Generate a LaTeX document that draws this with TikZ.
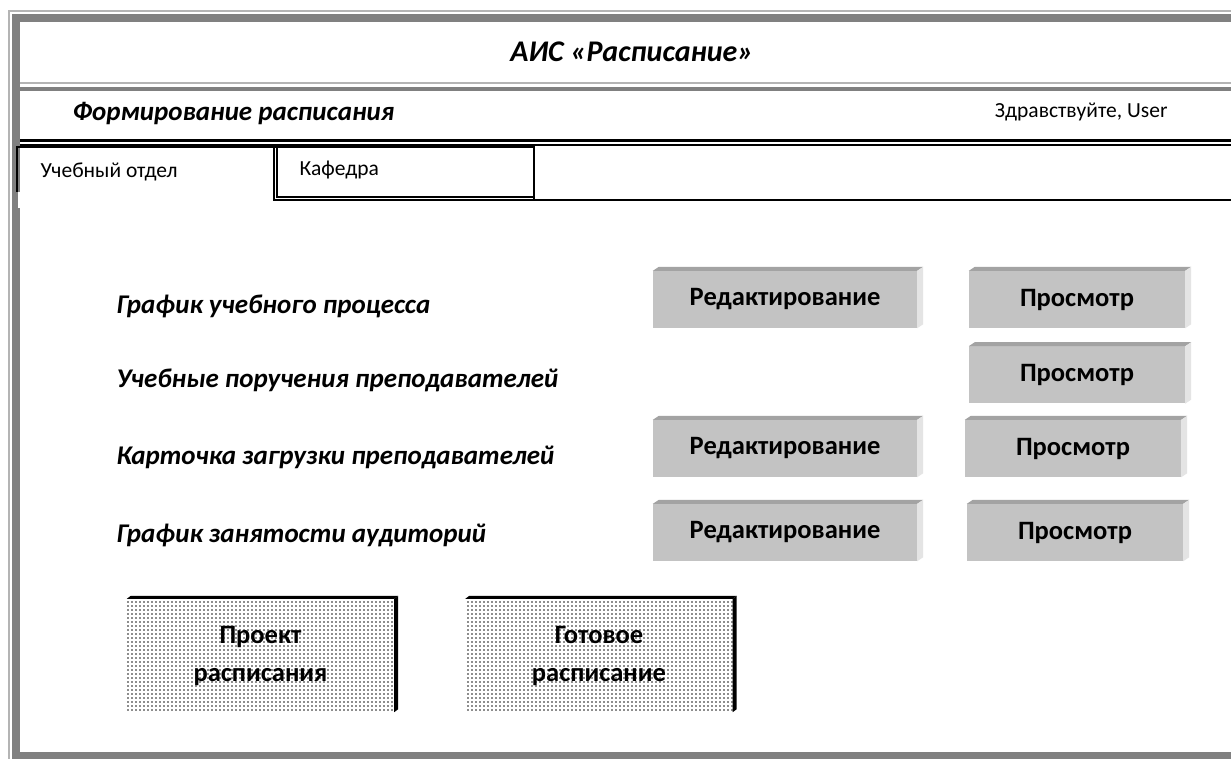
\documentclass[tikz,border=0pt]{standalone}
\usepackage{fontspec}
\setmainfont{Carlito}
\usetikzlibrary{positioning}
\usetikzlibrary{patterns}

\definecolor{ramka}{HTML}{808080}
\definecolor{ramkasvet}{HTML}{B4B4B4}
\definecolor{knopkafon}{HTML}{C3C3C3}
\definecolor{knopkaverh}{HTML}{A3A3A3}
\definecolor{knopkabok}{HTML}{E4E4E4}

\pgfdeclarepatternformonly{krap}{\pgfqpoint{-1pt}{-1pt}}{\pgfqpoint{1pt}{1pt}}{\pgfqpoint{4pt}{4pt}}{%
    \pgfpathcircle{\pgfqpoint{0pt}{0pt}}{0.85pt}\pgfusepath{fill}}

\begin{document}
\begin{tikzpicture}[x=1pt,y=-1pt,
    zagolovok/.style={font=\fontsize{27}{31}\selectfont\bfseries\itshape},
    obychnyj/.style={font=\fontsize{21.5}{25}\selectfont},
    vkladka/.style={line width=1.3pt},
    knopka/.style={fill=knopkafon,minimum height=57pt,inner sep=0pt,font=\fontsize{26.5}{31}\selectfont\bfseries},
    redakt/.style={knopka,minimum width=264pt},
    prosm/.style={knopka,minimum width=216pt},
    blok/.style={pattern=krap,pattern color=black!90,minimum width=267pt,minimum height=113pt,
        align=center,inner sep=0pt,font=\fontsize{26.5}{38}\selectfont\bfseries}]
    \useasboundingbox (0,0) rectangle (1231,758);
    \clip (0,0) rectangle (1231,758);
    \fill[white] (0,0) rectangle (1231,758);

    %window frame
    \draw[ramkasvet, line width=2pt] (9,770) -- (9,11) -- (1240,11);
    \draw[ramka, line width=8pt] (16,18) rectangle (1240,756);
    \fill[white] (17.5,192) rectangle (20.5,208);
    \draw[ramkasvet, line width=1.5pt] (20,83) -- (1231,83);
    \draw[ramka, line width=3.5pt] (20,89) -- (1231,89);
    \draw[line width=2.2pt] (20,140.5) -- (1231,140.5);
    \draw[line width=2.2pt] (20,145) -- (1231,145);

    %header
    \node[zagolovok, anchor=base, font=\fontsize{30}{34}\selectfont\bfseries\itshape] (zag) at (632,61) {АИС «Расписание»};
    \node[zagolovok, anchor=base west] (formir) at (69,120) {Формирование расписания};
    \node[obychnyj, anchor=base east] (privet) at (1171,117) {Здравствуйте, User};

    %tabs
    \draw[vkladka] (17,192) -- (17,147) -- (274,147);
    \draw[vkladka] (274,147) rectangle (534,200);
    \draw[vkladka] (277,147) -- (277,197) -- (534,197);
    \draw[vkladka] (534,200) -- (1231,200);
    \node[obychnyj, anchor=base west] (uchotd) at (37,177) {Учебный отдел};
    \node[obychnyj, anchor=base west] (kafedra) at (296,175) {Кафедра};

    %rows
    \node[zagolovok, anchor=base west] (grafik) at (113,313) {График учебного процесса};
    \node[zagolovok, anchor=base west] (poruch) at (113,387) {Учебные поручения преподавателей};
    \node[zagolovok, anchor=base west] (kartoch) at (113,464) {Карточка загрузки преподавателей};
    \node[zagolovok, anchor=base west] (auditor) at (113,542) {График занятости аудиторий};

    %buttons
    \node[redakt] (r1) at (785,299.5) {Редактирование};
    \node[prosm] (p1) at (1077,299.5) {Просмотр};
    \node[prosm, below=18pt of p1] (p2) {Просмотр};
    \node[redakt] (r3) at (785,448.5) {Редактирование};
    \node[prosm] (p3) at (1073,448.5) {Просмотр};
    \node[redakt] (r4) at (785,532.5) {Редактирование};
    \node[prosm] (p4) at (1075,532.5) {Просмотр};
    \foreach \k in {r1,p1,p2,r3,p3,r4,p4} {
        \fill[knopkaverh] (\k.north west) -- ++(6pt,4pt) -- ([shift={(6pt,4pt)}]\k.north east) -- (\k.north east) -- cycle;
        \fill[knopkabok] (\k.north east) -- ++(6pt,4pt) -- ([shift={(6pt,4pt)}]\k.south east) -- (\k.south east) -- cycle;
    }

    %schedule blocks
    \node[blok] (proekt) at (260.5,655.5) {Проект\\расписания};
    \node[blok] (gotovoe) at (599,655.5) {Готовое\\расписание};
    \foreach \k in {proekt,gotovoe} {
        \fill (\k.north west) -- ++(4pt,3pt) -- ([shift={(4pt,3pt)}]\k.north east) -- (\k.north east) -- cycle;
        \fill (\k.north east) -- ++(4pt,3pt) -- ([shift={(4pt,3pt)}]\k.south east) -- (\k.south east) -- cycle;
    }
\end{tikzpicture}
\end{document}
